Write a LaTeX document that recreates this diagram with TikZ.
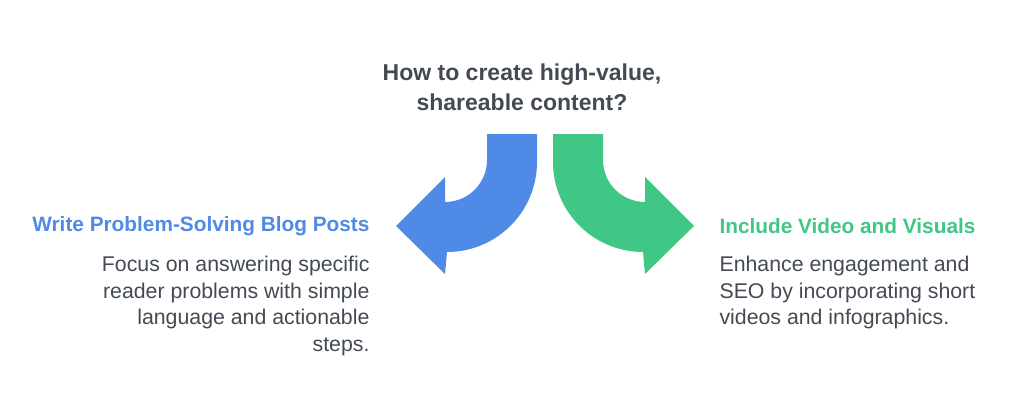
\documentclass[tikz,border=0pt]{standalone}
\usepackage{fontspec}
\setmainfont{Liberation Sans}
\definecolor{bl}{HTML}{4F8AE6}
\definecolor{gr}{HTML}{40C785}
\definecolor{tx}{HTML}{434A54}
\begin{document}
\begin{tikzpicture}[x=1pt,y=-1pt,
  ttl/.style={font=\fontsize{23}{30}\selectfont\bfseries,text=tx,align=center},
  hd/.style={font=\fontsize{20.8}{24}\selectfont\bfseries},
  ds/.style={font=\fontsize{21.3}{26.5}\selectfont,text=tx}]
\useasboundingbox (0,0) rectangle (1024,412);
\fill[bl] (487,134) -- (537,134) -- (537,162) arc[start angle=0,end angle=90,radius=90] -- (445,274) -- (396,226) -- (445,177) -- (445,202) arc[start angle=90,end angle=0,radius=42] -- (487,160) -- cycle;
\fill[gr] (603,134) -- (553,134) -- (553,162) arc[start angle=180,end angle=90,radius=90] -- (645,274) -- (694,226) -- (645,177) -- (645,202) arc[start angle=90,end angle=180,radius=42] -- (603,160) -- cycle;
\node[ttl] (t) at (522,87) {How to create high-value,\\shareable content?};
\node[hd,text=bl,anchor=east] (lh) at (373,226) {Write Problem-Solving Blog Posts};
\node[ds,anchor=north east,align=right] (ld) at (373,253) {Focus on answering specific\\reader problems with simple\\language and actionable\\steps.};
\node[hd,text=gr,anchor=west] (rh) at (716,226) {Include Video and Visuals};
\node[ds,anchor=north west,align=left] (rd) at (716,253) {Enhance engagement and\\SEO by incorporating short\\videos and infographics.};
\end{tikzpicture}
\end{document}
